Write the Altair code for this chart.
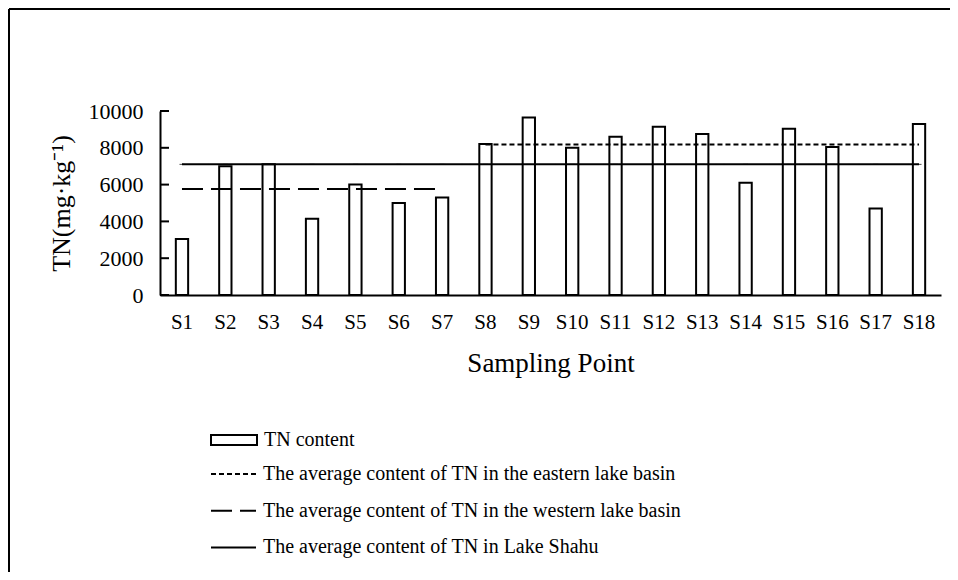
import altair as alt
import pandas as pd

sites = ["S1", "S2", "S3", "S4", "S5", "S6", "S7", "S8", "S9",
         "S10", "S11", "S12", "S13", "S14", "S15", "S16", "S17", "S18"]
tn = [3050, 7000, 7100, 4150, 6000, 5000, 5300, 8200, 9650,
      8000, 8600, 9150, 8750, 6100, 9030, 8050, 4700, 9300]
west_sites = sites[:7]
east_sites = sites[7:]
east_avg = 8180
west_avg = 5760
all_avg = 7100
y_ticks = [0, 2000, 4000, 6000, 8000, 10000]

bar_label = "TN content"
east_label = "The average content of TN in the eastern lake basin"
west_label = "The average content of TN in the western lake basin"
all_label = "The average content of TN in Lake Shahu"

FONT = "Liberation Serif"

bars_df = pd.DataFrame({"site": sites, "tn": tn, "kind": bar_label})
lines_df = pd.concat([
    pd.DataFrame({"site": east_sites, "v": east_avg, "series": east_label}),
    pd.DataFrame({"site": west_sites, "v": west_avg, "series": west_label}),
    pd.DataFrame({"site": sites, "v": all_avg, "series": all_label}),
])
all_df = lines_df[lines_df["series"] == all_label]
ticks_df = pd.DataFrame({"v": y_ticks})
one_df = pd.DataFrame({"a": [0]})

xscale = alt.Scale(domain=sites, paddingInner=0.716, paddingOuter=0.365)
yscale = alt.Scale(domain=[0, 10000], nice=False)

x_axis = alt.Axis(title="Sampling Point", labelAngle=0, ticks=False, tickSize=0,
                  labelFont=FONT, labelFontSize=21, labelColor="black",
                  labelPadding=16, titleFont=FONT, titleFontSize=27,
                  titleFontWeight="normal", titleColor="black", titlePadding=18,
                  domainColor="black", domainWidth=2)
y_axis = alt.Axis(title="TN(mg·kg⁻¹)", values=y_ticks, format="d", labelOverlap=False,
                  ticks=False, tickSize=0,
                  grid=False, labelFont=FONT, labelFontSize=22, labelColor="black",
                  labelPadding=17, titleFont=FONT, titleFontSize=26,
                  titleFontWeight="normal", titleColor="black", titlePadding=14,
                  domainColor="black", domainWidth=2)

X = alt.X("site:N", scale=xscale, sort=sites, axis=x_axis)

bars = alt.Chart(bars_df).mark_bar(stroke="black", strokeWidth=2).encode(
    x=X,
    y=alt.Y("tn:Q", scale=yscale, axis=y_axis),
    fill=alt.Fill("kind:N", scale=alt.Scale(domain=[bar_label], range=["white"]),
                  legend=alt.Legend(title=None, orient="none", legendX=50, legendY=305,
                                    symbolType="M-1,-0.22H1V0.22H-1Z", symbolSize=2116,
                                    symbolStrokeColor="black", symbolStrokeWidth=2,
                                    symbolFillColor="white", symbolOpacity=1,
                                    labelFont=FONT, labelFontSize=20, labelColor="black",
                                    labelOffset=6, labelLimit=0)),
)

lines = alt.Chart(lines_df).mark_line(color="black", strokeWidth=2).encode(
    x=X,
    y=alt.Y("v:Q", scale=yscale, axis=y_axis),
    strokeDash=alt.StrokeDash(
        "series:N",
        scale=alt.Scale(domain=[east_label, west_label, all_label],
                        range=[[5, 3], [21, 8], [1, 0]]),
        legend=alt.Legend(title=None, orient="none", legendX=50, legendY=353,
                          symbolType="stroke", symbolSize=2025,
                          symbolStrokeColor="black", symbolStrokeWidth=2,
                          clipHeight=20, rowPadding=16.7,
                          labelFont=FONT, labelFontSize=20, labelColor="black",
                          labelOffset=6, labelLimit=0)),
)

markers = alt.Chart(all_df).mark_tick(color="black", thickness=1, size=5).encode(
    x=X,
    y=alt.Y("v:Q", scale=yscale, axis=y_axis),
)

yticks = alt.Chart(ticks_df).mark_rule(color="black", strokeWidth=2).encode(
    y=alt.Y("v:Q", scale=yscale, axis=y_axis),
    x=alt.value(0),
    x2=alt.value(9),
)

# decorative frame around the figure (top and left edges)
border_top = alt.Chart(one_df).mark_rule(color="black", strokeWidth=2).encode(
    x=alt.value(-151),
    x2=alt.value(790),
    y=alt.value(-102),
    y2=alt.value(-102),
)
border_left = alt.Chart(one_df).mark_rule(color="black", strokeWidth=2).encode(
    x=alt.value(-151),
    x2=alt.value(-151),
    y=alt.value(-102),
    y2=alt.value(461),
)

chart = alt.layer(border_top, border_left, bars, lines, markers, yticks).properties(
    width=781, height=184,
    autosize=alt.AutoSizeParams(type="none"),
    padding={"left": 152, "top": 103, "right": 9, "bottom": 277},
).configure_view(stroke="transparent")

chart.save("out.html", embed_options={"renderer": "svg", "actions": False})
